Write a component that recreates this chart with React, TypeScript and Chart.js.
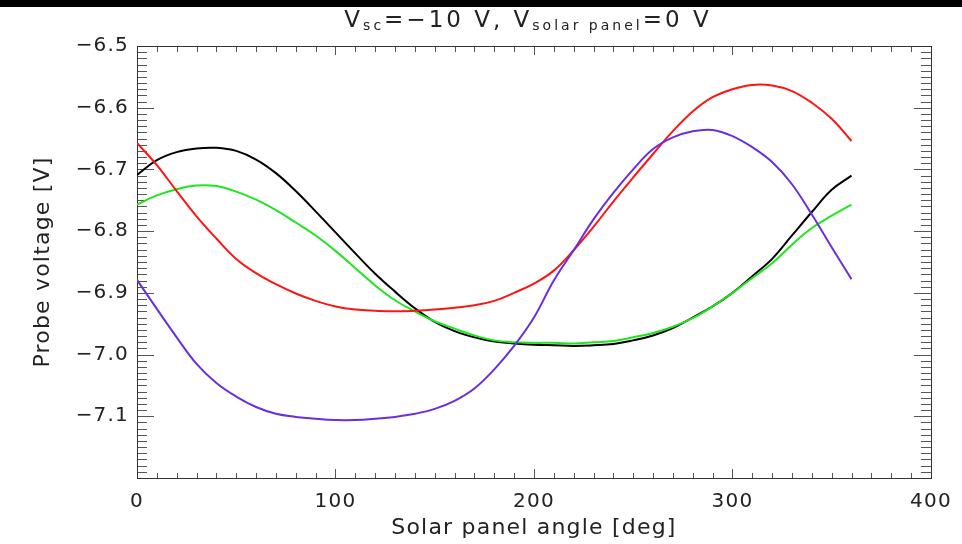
import React, { useEffect, useRef } from "react";
import { Chart, registerables } from "chart.js";

Chart.register(...registerables);

// ---- data ----
const angles = [
  0, 10, 20, 30, 40, 50, 60, 70, 80, 90, 100, 110, 120, 130, 140, 150, 160, 170, 180,
  190, 200, 210, 220, 230, 240, 250, 260, 270, 280, 290, 300, 310, 320, 330, 340, 350, 360,
];

const blackSeries = [
  -6.709, -6.685, -6.672, -6.666, -6.665, -6.670, -6.684, -6.706, -6.735, -6.768,
  -6.802, -6.836, -6.869, -6.898, -6.925, -6.947, -6.962, -6.972, -6.979, -6.982,
  -6.984, -6.985, -6.986, -6.985, -6.983, -6.977, -6.969, -6.957, -6.940, -6.922,
  -6.900, -6.873, -6.845, -6.807, -6.769, -6.733, -6.710,
];

const greenSeries = [
  -6.757, -6.742, -6.732, -6.726, -6.727, -6.736, -6.749, -6.766, -6.786, -6.807,
  -6.832, -6.860, -6.888, -6.912, -6.930, -6.946, -6.958, -6.969, -6.977, -6.980,
  -6.981, -6.981, -6.982, -6.980, -6.978, -6.972, -6.965, -6.955, -6.941, -6.922,
  -6.900, -6.876, -6.852, -6.822, -6.795, -6.775, -6.757,
];

const redSeries = [
  -6.657, -6.693, -6.735, -6.776, -6.812, -6.845, -6.868, -6.886, -6.901, -6.913,
  -6.922, -6.927, -6.929, -6.930, -6.929, -6.927, -6.924, -6.920, -6.913, -6.900,
  -6.885, -6.864, -6.831, -6.793, -6.752, -6.713, -6.675, -6.638, -6.606, -6.583,
  -6.570, -6.563, -6.564, -6.573, -6.592, -6.618, -6.654,
];

const purpleSeries = [
  -6.879, -6.926, -6.972, -7.015, -7.046, -7.068, -7.085, -7.096, -7.101, -7.104,
  -7.106, -7.106, -7.104, -7.101, -7.096, -7.088, -7.075, -7.055, -7.024, -6.986,
  -6.940, -6.880, -6.831, -6.781, -6.738, -6.700, -6.667, -6.648, -6.638, -6.636,
  -6.646, -6.664, -6.688, -6.724, -6.773, -6.826, -6.878,
];

const xMin = 0;
const xMax = 400;
const xMajorStep = 100;
const xMinorStep = 10;
const yMin = -7.2;
const yMax = -6.5;
const yMajorStep = 0.1;
const yMinorStep = 0.01;
const hiddenYTick = -7.2;

const titleParts = [
  { text: "V", sub: false },
  { text: "sc", sub: true },
  { text: "=\u221210 V, V", sub: false },
  { text: "solar panel", sub: true },
  { text: "=0 V", sub: false },
];
const xTitle = "Solar panel angle [deg]";
const yTitle = "Probe voltage [V]";

const FONT = "'DejaVu Sans', sans-serif";
const TEXT = "#222";

const framePlugin = {
  id: "idlFrame",
  beforeDraw(chart: any) {
    const ctx = chart.ctx;
    ctx.save();
    ctx.fillStyle = "#ffffff";
    ctx.fillRect(0, 0, chart.width, chart.height);
    ctx.fillStyle = "#000000";
    ctx.fillRect(0, 0, chart.width, 7);
    ctx.restore();
    try {
      (ctx as any).letterSpacing = "1.2px";
    } catch (e) {}
  },
  beforeDatasetsDraw(chart: any) {
    const ctx = chart.ctx;
    const { left, right, top, bottom } = chart.chartArea;
    const xs = chart.scales.x;
    const ys = chart.scales.y;
    ctx.save();
    ctx.lineWidth = 1;
    ctx.strokeStyle = "#555";
    ctx.beginPath();
    const nY = Math.round((yMax - yMin) / yMinorStep);
    for (let k = 0; k <= nY; k++) {
      const v = yMax - k * yMinorStep;
      const major = k % Math.round(yMajorStep / yMinorStep) === 0;
      const py = Math.round(ys.getPixelForValue(v)) + 0.5;
      const len = major ? 17 : 10;
      ctx.moveTo(left, py);
      ctx.lineTo(left + len, py);
      ctx.moveTo(right, py);
      ctx.lineTo(right - len, py);
    }
    const nX = Math.round((xMax - xMin) / xMinorStep);
    for (let k = 0; k <= nX; k++) {
      const a = xMin + k * xMinorStep;
      const major = a % xMajorStep === 0;
      const px = Math.round(xs.getPixelForValue(a)) + 0.5;
      ctx.moveTo(px, bottom);
      ctx.lineTo(px, bottom - (major ? 9 : 5));
      ctx.moveTo(px, top);
      ctx.lineTo(px, top + (major ? 9 : 6));
    }
    ctx.stroke();
    ctx.strokeStyle = "#333";
    ctx.strokeRect(Math.round(left) + 0.5, Math.round(top) + 0.5, Math.round(right - left), Math.round(bottom - top));
    ctx.restore();
  },
  afterDraw(chart: any) {
    const ctx = chart.ctx;
    ctx.save();
    try {
      (ctx as any).letterSpacing = "3px";
    } catch (e) {}
    ctx.fillStyle = TEXT;
    ctx.textAlign = "left";
    ctx.textBaseline = "alphabetic";
    const bigFont = `23px ${FONT}`;
    const smallFont = `14px ${FONT}`;
    let total = 0;
    const widths = titleParts.map((p) => {
      ctx.font = p.sub ? smallFont : bigFont;
      const w = ctx.measureText(p.text).width;
      total += w;
      return w;
    });
    let x = 528 - total / 2;
    titleParts.forEach((p, i) => {
      ctx.font = p.sub ? smallFont : bigFont;
      ctx.fillText(p.text, x, p.sub ? 30 : 27);
      x += widths[i];
    });
    ctx.restore();
  },
};

function fmtY(v: number): string {
  if (Math.abs(v - hiddenYTick) < 1e-6) return "";
  const s = Math.abs(v).toFixed(1);
  return v < 0 ? "\u2212" + s : s;
}

export default function App() {
  const ref = useRef<HTMLCanvasElement | null>(null);

  useEffect(() => {
    if (!ref.current) return;
    const mk = (data: number[], color: string) => ({
      data: angles.map((a, i) => ({ x: a, y: data[i] })),
      borderColor: color,
      backgroundColor: color,
      borderWidth: 2,
      pointRadius: 0,
      fill: false,
      tension: 0.4,
    });
    const chart = new Chart(ref.current, {
      type: "line",
      data: {
        datasets: [
          mk(purpleSeries, "#6a2ee0"),
          mk(redSeries, "#ff1414"),
          mk(greenSeries, "#1ee61e"),
          mk(blackSeries, "#000000"),
        ],
      },
      options: {
        responsive: false,
        animation: false,
        devicePixelRatio: 1,
        layout: { padding: { left: 0, right: 24, top: 46, bottom: 0 } },
        plugins: {
          legend: { display: false },
          tooltip: { enabled: false },
          title: { display: false },
        },
        scales: {
          x: {
            type: "linear",
            min: xMin,
            max: xMax,
            grid: { display: false, drawTicks: false },
            border: { display: false },
            ticks: {
              stepSize: xMajorStep,
              padding: 12,
              autoSkip: false,
              maxRotation: 0,
              color: TEXT,
              font: { family: FONT, size: 20 },
              callback: (v: any) => String(v),
            },
            title: {
              display: true,
              text: xTitle,
              color: TEXT,
              font: { family: FONT, size: 22 },
              padding: { top: 0, bottom: 3 },
            },
            afterFit: (s: any) => {
              s.height = 66;
            },
          },
          y: {
            type: "linear",
            min: yMin,
            max: yMax,
            grid: { display: false, drawTicks: false },
            border: { display: false },
            ticks: {
              stepSize: yMajorStep,
              padding: 8,
              autoSkip: false,
              color: TEXT,
              font: { family: FONT, size: 20 },
              callback: (v: any) => fmtY(Number(v)),
            },
            title: {
              display: true,
              text: yTitle,
              color: TEXT,
              font: { family: FONT, size: 22 },
              padding: { top: 30, bottom: 0 },
            },
            afterFit: (s: any) => {
              s.width = 137;
            },
          },
        },
      },
      plugins: [framePlugin],
    });
    return () => chart.destroy();
  }, []);

  return (
    <div style={{ position: "absolute", left: 0, top: 0, width: 962, height: 544, background: "#fff" }}>
      <canvas ref={ref} width={962} height={544} style={{ display: "block", width: 962, height: 544 }} />
    </div>
  );
}
